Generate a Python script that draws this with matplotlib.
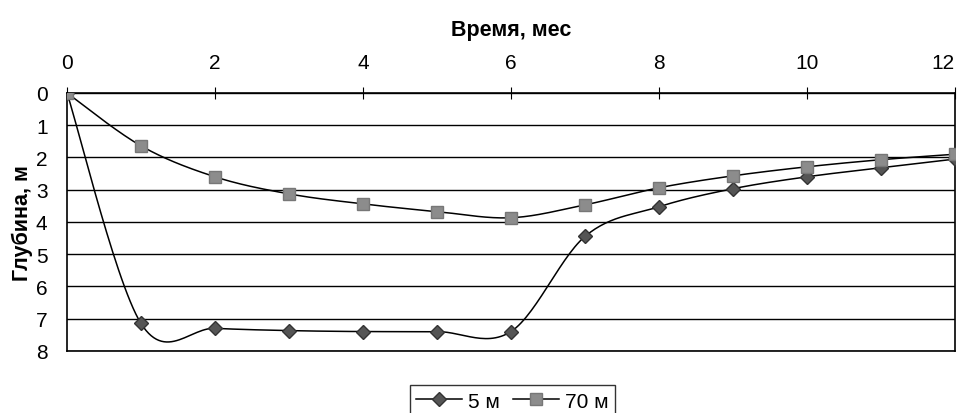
import numpy as np
import matplotlib
matplotlib.use('Agg')
import matplotlib.pyplot as plt

plt.rcParams['font.family'] = ['Liberation Sans', 'DejaVu Sans']

months = [0, 1, 2, 3, 4, 5, 6, 7, 8, 9, 10, 11, 12]
depth_5m = [0, 7.15, 7.3, 7.37, 7.4, 7.4, 7.4, 4.45, 3.53, 2.97, 2.6, 2.32, 2.05]
depth_70m = [0, 1.64, 2.6, 3.13, 3.44, 3.68, 3.87, 3.47, 2.94, 2.57, 2.29, 2.07, 1.9]
x_ticks = [0, 2, 4, 6, 8, 10, 12]
y_ticks = [0, 1, 2, 3, 4, 5, 6, 7, 8]


def smooth(x, y, n=30):
    # Catmull-Rom style curve through the points, like Excel's smoothed line
    x = np.asarray(x, float)
    y = np.asarray(y, float)
    px = np.concatenate([[x[0]], x, [x[-1]]])
    py = np.concatenate([[y[0]], y, [y[-1]]])
    xs, ys = [], []
    t = np.linspace(0, 1, n)
    for i in range(1, len(px) - 2):
        p0, p1, p2, p3 = (np.array([px[j], py[j]]) for j in (i - 1, i, i + 1, i + 2))
        c1 = p1 + (p2 - p0) / 6
        c2 = p2 - (p3 - p1) / 6
        pts = ((1 - t) ** 3)[:, None] * p1 + (3 * (1 - t) ** 2 * t)[:, None] * c1 \
            + (3 * (1 - t) * t ** 2)[:, None] * c2 + (t ** 3)[:, None] * p2
        xs.extend(pts[:, 0])
        ys.extend(pts[:, 1])
    return xs, ys


fig = plt.figure(figsize=(9.63, 4.14), dpi=100)
ax = fig.add_axes([0.0696, 0.150, 0.922, 0.623])

for yv in y_ticks:
    ax.axhline(yv, color='black', linewidth=1.0, zorder=1)

sx, sy = smooth(months, depth_5m)
ax.plot(sx, sy, color='black', linewidth=1.1, zorder=2)
ax.plot(months, depth_5m, linestyle='none', marker='D', markersize=7,
        markerfacecolor='#555555', markeredgecolor='#333333', zorder=3)
sx, sy = smooth(months, depth_70m)
ax.plot(sx, sy, color='black', linewidth=1.1, zorder=2)
ax.plot(months, depth_70m, linestyle='none', marker='s', markersize=8,
        markerfacecolor='#8c8c8c', markeredgecolor='#777777', zorder=3)

ax.set_xlim(0, 12)
ax.set_ylim(8, 0)
ax.xaxis.tick_top()
ax.xaxis.set_label_position('top')
ax.set_xticks(x_ticks)
ax.set_yticks(y_ticks)
ax.tick_params(axis='x', direction='inout', length=8, labelsize=15, pad=11)
ax.tick_params(axis='y', length=0, labelsize=15, pad=14)
ax.get_xticklabels()[-1].set_horizontalalignment('right')
ax.get_xticklabels()[-1].set_x(12.1)
for sp in ax.spines.values():
    sp.set_linewidth(1.2)

ax.set_xlabel('Время, мес', fontsize=15.5, fontweight='bold', labelpad=13)
ax.set_ylabel('Глубина, м', fontsize=15.5, fontweight='bold', labelpad=2)

h1 = plt.Line2D([], [], color='black', linewidth=1.1, marker='D', markersize=7,
                markerfacecolor='#555555', markeredgecolor='#333333')
h2 = plt.Line2D([], [], color='black', linewidth=1.1, marker='s', markersize=8,
                markerfacecolor='#8c8c8c', markeredgecolor='#777777')
fig.legend([h1, h2], ['5 м', '70 м'], loc='upper center', ncol=2,
           bbox_to_anchor=(0.532, 1 - 376 / 414), fontsize=15, frameon=True,
           fancybox=False, edgecolor='black', handlelength=2.2,
           handletextpad=0.3, columnspacing=0.6, borderpad=0.3)

fig.savefig('out.png', dpi=100)
